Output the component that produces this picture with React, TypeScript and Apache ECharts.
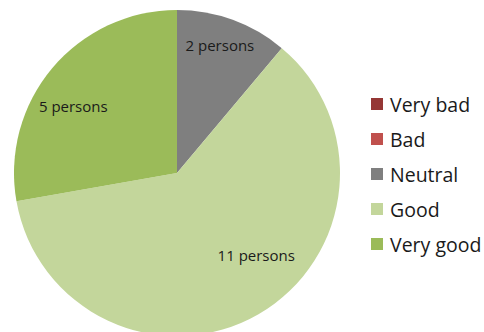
import React, { useEffect, useRef } from "react";
import * as echarts from "echarts";

const categories = ["Very bad", "Bad", "Neutral", "Good", "Very good"];
const values = [0, 0, 2, 11, 5];
const colors = ["#953735", "#c0504d", "#7f7f7f", "#c3d69b", "#9bbb59"];

// label nudges from the default inside position (by data index)
const labelNudge: Record<number, [number, number]> = {
  2: [14, -49],
  3: [37, 9],
  4: [-39, -13],
};

export default function App() {
  const ref = useRef<HTMLDivElement>(null);
  useEffect(() => {
    if (!ref.current) return;
    const chart = echarts.init(ref.current, undefined, { renderer: "svg" });
    chart.setOption({
      animation: false,
      backgroundColor: "#ffffff",
      legend: {
        orient: "vertical",
        left: 371,
        top: 94,
        padding: 0,
        itemWidth: 12,
        itemHeight: 12,
        itemGap: 15,
        icon: "rect",
        data: categories,
        textStyle: {
          fontFamily: "Open Sans",
          fontSize: 19.5,
          color: "#1a1a1a",
          lineHeight: 20,
          padding: [0, 0, 0, 2],
        },
      },
      series: [
        {
          type: "pie",
          center: [177, 173],
          radius: [0, 163],
          startAngle: 90,
          clockwise: true,
          avoidLabelOverlap: false,
          silent: true,
          label: {
            show: true,
            position: "inside",
            formatter: (p: any) => (p.value > 0 ? `${p.value} persons` : ""),
            fontFamily: "Open Sans",
            fontSize: 15,
            color: "#1a1a1a",
          },
          labelLine: { show: false },
          labelLayout: (p: any) => {
            const n = labelNudge[p.dataIndex] || [0, 0];
            return { dx: n[0], dy: n[1] };
          },
          itemStyle: { borderWidth: 0 },
          data: categories.map((name, i) => ({
            name,
            value: values[i],
            itemStyle: { color: colors[i] },
          })),
        },
      ],
    });
    return () => chart.dispose();
  }, []);
  return (
    <div
      ref={ref}
      style={{ position: "fixed", left: 0, top: 0, width: 484, height: 332 }}
    />
  );
}
